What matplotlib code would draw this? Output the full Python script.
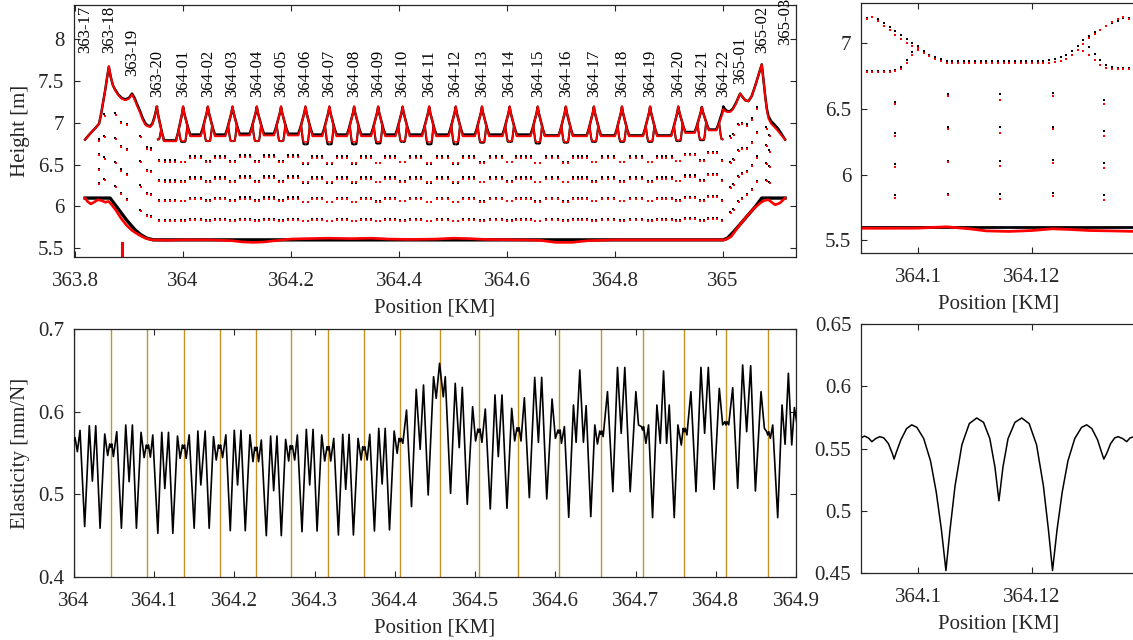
import numpy as np
import matplotlib
matplotlib.use("Agg")
import matplotlib.pyplot as plt

plt.rcParams["font.family"] = ["Liberation Serif", "DejaVu Serif"]
plt.rcParams["font.size"] = 15

# ------------------------------------------------------------------ data
mast_label = ["363-17", "363-18", "363-19", "363-20",
              "364-01", "364-02", "364-03", "364-04", "364-05", "364-06",
              "364-07", "364-08", "364-09", "364-10", "364-11", "364-12",
              "364-13", "364-14", "364-15", "364-16", "364-17", "364-18",
              "364-19", "364-20", "364-21", "364-22",
              "365-01", "365-02", "365-03"]
mast_km = [363.8185, 363.8625, 363.9055, 363.9515,
           364.0000, 364.0458, 364.0915, 364.1365, 364.1814, 364.2266,
           364.2709, 364.3167, 364.3612, 364.4065, 364.4557, 364.5048,
           364.5535, 364.6047, 364.6567, 364.7087, 364.7607, 364.8127,
           364.8648, 364.9170, 364.9606, 365.0006,
           365.0315, 365.0716, 365.1148]
label_base = [7.84, 7.83, 7.56, 7.31,
              7.31, 7.31, 7.31, 7.31, 7.31, 7.31, 7.31, 7.31, 7.31, 7.31, 7.31,
              7.31, 7.31, 7.31, 7.31, 7.31, 7.31, 7.31, 7.31, 7.31, 7.31, 7.31,
              7.46, 7.83, 7.93]

# regular masts 363-20 ... 364-22 (index 3..25)
peak_blk = [7.19, 7.19, 7.19, 7.19, 7.19, 7.19, 7.19, 7.19, 7.19, 7.19, 7.19, 7.19,
            7.19, 7.19, 7.19, 7.19, 7.19, 7.19, 7.19, 7.19, 7.19, 7.19, 7.19]
peak_red = [7.19, 7.20, 7.20, 7.20, 7.20, 7.20, 7.20, 7.20, 7.20, 7.20, 7.20, 7.20,
            7.20, 7.20, 7.20, 7.20, 7.20, 7.20, 7.20, 7.20, 7.20, 7.19, 7.16]
stitch_blk = [6.80, 6.77, 6.78, 6.78, 6.78, 6.78, 6.74, 6.74, 6.74, 6.75, 6.77, 6.74,
              6.74, 6.76, 6.77, 6.75, 6.76, 6.77, 6.77, 6.77, 6.78, 6.79, 6.80]
stitch_red = [6.80, 6.78, 6.78, 6.78, 6.78, 6.78, 6.77, 6.77, 6.77, 6.77, 6.78, 6.77,
              6.77, 6.77, 6.78, 6.77, 6.77, 6.78, 6.78, 6.78, 6.79, 6.80, 6.80]
stitch_side = ["R"] + ["B"] * 21 + ["L"]
# spans between those masts (22)
sag_blk = [6.79, 6.86, 6.86, 6.87, 6.87, 6.87, 6.86, 6.86, 6.86, 6.86, 6.86,
           6.86, 6.86, 6.86, 6.86, 6.85, 6.85, 6.85, 6.85, 6.85, 6.89, 6.92]
sag_red = [6.78, 6.84, 6.84, 6.85, 6.85, 6.85, 6.84, 6.84, 6.84, 6.84, 6.84,
           6.84, 6.84, 6.84, 6.84, 6.84, 6.84, 6.84, 6.84, 6.84, 6.88, 6.91]
span_drops = [5, 5, 5, 5, 5, 5, 5, 5, 5, 5, 5, 5, 5, 5, 6, 5, 6, 5, 5, 6, 5, 5]

# messenger shape next to a support
desc_dx = [0.0, 0.002, 0.004, 0.006, 0.008, 0.010, 0.012, 0.013]
desc_f = [1.0, 0.785, 0.63, 0.485, 0.34, 0.19, 0.08, 0.0]
stitch_l_dx = [-0.0080, -0.0065, -0.0050, -0.0035, 0.0]
stitch_l_f = [1.0, 0.6, 0.25, 0.03, 0.0]
stitch_r_dx = [0.0, 0.0042, 0.0055, 0.0068, 0.0080]
stitch_r_f = [0.0, 0.03, 0.3, 0.65, 1.0]
drop5 = [0.087, 0.292, 0.5, 0.708, 0.913]
drop6 = [0.08, 0.24, 0.42, 0.58, 0.76, 0.92]

# transition ends of the messenger
end_l_km = [363.8185, 363.825, 363.832, 363.838, 363.8444, 363.848, 363.852, 363.856,
            363.859, 363.8625, 363.866, 363.870, 363.874, 363.880, 363.886, 363.893,
            363.900, 363.9055, 363.910, 363.915, 363.9204, 363.925, 363.9296, 363.934,
            363.9389, 363.943, 363.947, 363.9515]
end_l_blk = [6.80, 6.85, 6.90, 6.94, 6.99, 7.10, 7.25, 7.40,
             7.53, 7.67, 7.55, 7.45, 7.40, 7.34, 7.30, 7.28,
             7.30, 7.35, 7.30, 7.22, 7.14, 7.06, 7.00, 6.97,
             6.96, 6.99, 7.07, 7.19]
end_l_red = [6.80, 6.85, 6.90, 6.94, 6.99, 7.10, 7.25, 7.40,
             7.53, 7.68, 7.55, 7.45, 7.39, 7.33, 7.29, 7.27,
             7.29, 7.34, 7.28, 7.20, 7.12, 7.04, 6.98, 6.96,
             6.95, 6.98, 7.06, 7.19]
end_r_km = [365.0006, 365.004, 365.008, 365.013, 365.018, 365.024, 365.0315, 365.036,
            365.041, 365.047, 365.053, 365.0593, 365.065, 365.0716, 365.075, 365.078,
            365.081, 365.084, 365.089, 365.095, 365.102, 365.108, 365.1148]
end_r_blk = [7.19, 7.16, 7.14, 7.14, 7.17, 7.24, 7.35, 7.31,
             7.27, 7.26, 7.32, 7.44, 7.56, 7.70, 7.50, 7.32,
             7.17, 7.08, 7.02, 6.98, 6.93, 6.87, 6.80]
end_r_red = [7.16, 7.14, 7.13, 7.13, 7.16, 7.23, 7.35, 7.31,
             7.27, 7.26, 7.32, 7.44, 7.56, 7.70, 7.50, 7.31,
             7.15, 7.05, 6.99, 6.95, 6.90, 6.85, 6.80]

# contact wire
cw_blk_km = [363.8185, 363.8648, 363.880, 363.895, 363.911, 363.922, 363.933, 363.945,
             365.000, 365.008, 365.020, 365.040, 365.060, 365.0716, 365.1148]
cw_blk = [6.10, 6.10, 5.97, 5.84, 5.72, 5.66, 5.62, 5.60,
          5.60, 5.62, 5.70, 5.85, 6.00, 6.10, 6.10]
cw_red_km = [363.8185, 363.823, 363.829, 363.835, 363.842, 363.849, 363.856, 363.862,
             363.868, 363.876, 363.886, 363.896, 363.906, 363.918, 363.930, 363.942,
             363.970, 364.000, 364.050, 364.090, 364.110, 364.130, 364.150, 364.170,
             364.200, 364.230, 364.270, 364.310, 364.350, 364.380, 364.420, 364.470,
             364.500, 364.530, 364.560, 364.620, 364.660, 364.690, 364.720, 364.750,
             364.800, 364.900, 364.950, 365.0037, 365.015, 365.0284, 365.0438, 365.056,
             365.0685, 365.076, 365.0839, 365.090, 365.0963, 365.105, 365.1148]
cw_red = [6.10, 6.06, 6.03, 6.05, 6.08, 6.07, 6.05, 6.06,
          6.02, 5.95, 5.85, 5.77, 5.71, 5.66, 5.62, 5.60,
          5.595, 5.60, 5.60, 5.59, 5.575, 5.57, 5.575, 5.59,
          5.61, 5.615, 5.62, 5.615, 5.62, 5.61, 5.605, 5.61,
          5.62, 5.615, 5.605, 5.60, 5.595, 5.57, 5.57, 5.59,
          5.60, 5.60, 5.60, 5.60, 5.64, 5.76, 5.88, 5.97,
          6.04, 6.07, 6.08, 6.05, 6.02, 6.04, 6.10]

# droppers in the transition spans
trans_drop_km = [363.8444, 363.8543, 363.8741, 363.8846, 363.8957, 363.9204, 363.9327,
                 363.9407, 365.0130, 365.0191, 365.0284, 365.0346, 365.0438, 365.0530,
                 365.0623, 365.0796, 365.0858]
trans_drop_bot = [6.10, 6.07, 5.96, 5.87, 5.79, 5.66, 5.62, 5.61, 5.63, 5.67, 5.75,
                  5.80, 5.87, 5.93, 6.01, 6.10, 6.10]
trans_drop_top = [6.98, 7.36, 7.40, 7.30, 7.29, 7.14, 6.98, 6.97, 7.14, 7.17, 7.30,
                  7.30, 7.26, 7.34, 7.48, 7.16, 7.05]
red_mark_km = 363.886
red_mark_h = [5.40, 5.56]

# zoomed height panel (364.090 - 364.138)
tr_km = [364.090, 364.091, 364.092, 364.093, 364.094, 364.095, 364.096, 364.097,
         364.098, 364.099, 364.100, 364.101, 364.102, 364.103, 364.104, 364.105,
         364.106, 364.107, 364.108, 364.109, 364.110, 364.111, 364.112, 364.113,
         364.114, 364.115, 364.116, 364.117, 364.118, 364.119, 364.120, 364.121,
         364.122, 364.123, 364.124, 364.125, 364.126, 364.127, 364.128, 364.129,
         364.130, 364.131, 364.132, 364.133, 364.134, 364.135, 364.136, 364.137,
         364.138]
tr_msg_blk = [7.15, 7.19, 7.20, 7.18, 7.15, 7.12, 7.09, 7.06,
              7.03, 7.00, 6.97, 6.94, 6.91, 6.89, 6.875, 6.865,
              6.862, 6.862, 6.862, 6.862, 6.862, 6.862, 6.862, 6.862,
              6.862, 6.862, 6.862, 6.862, 6.863, 6.864, 6.865, 6.866,
              6.867, 6.868, 6.875, 6.89, 6.91, 6.94, 6.98, 7.02,
              7.05, 7.08, 7.10, 7.13, 7.15, 7.17, 7.19, 7.19,
              7.17]
tr_msg_red = [7.14, 7.18, 7.20, 7.17, 7.13, 7.10, 7.06, 7.03,
              7.00, 6.975, 6.95, 6.925, 6.90, 6.88, 6.86, 6.85,
              6.848, 6.847, 6.846, 6.845, 6.845, 6.845, 6.845, 6.845,
              6.845, 6.845, 6.846, 6.847, 6.848, 6.849, 6.85, 6.85,
              6.85, 6.85, 6.855, 6.865, 6.88, 6.91, 6.95, 6.99,
              7.04, 7.07, 7.10, 7.13, 7.16, 7.18, 7.20, 7.18,
              7.16]
tr_st_l_km = [364.090, 364.091, 364.092, 364.093, 364.094, 364.095, 364.096, 364.097,
              364.098, 364.099, 364.100]
tr_st_l_blk = [6.79, 6.785, 6.785, 6.785, 6.79, 6.79, 6.795, 6.82, 6.87, 6.93, 6.98]
tr_st_l_red = [6.78, 6.778, 6.776, 6.778, 6.78, 6.782, 6.786, 6.80, 6.85, 6.91, 6.96]
tr_st_r_km = [364.129, 364.130, 364.131, 364.132, 364.133, 364.134, 364.135, 364.136,
              364.137, 364.138]
tr_st_r_blk = [7.02, 6.97, 6.92, 6.87, 6.83, 6.815, 6.81, 6.81, 6.81, 6.81]
tr_st_r_red = [6.94, 6.91, 6.87, 6.835, 6.81, 6.80, 6.80, 6.80, 6.80, 6.80]
tr_drop_km = [364.0960, 364.1052, 364.1144, 364.1236, 364.1326]
tr_drop_top_blk = [6.79, 6.86, 6.86, 6.87, 6.81]
tr_drop_top_red = [6.78, 6.855, 6.83, 6.86, 6.79]
tr_drop_bot_blk = [5.605, 5.605, 5.605, 5.605, 5.605]
tr_drop_bot_red = [5.592, 5.60, 5.57, 5.588, 5.574]
tr_cw_km = [364.090, 364.095, 364.100, 364.105, 364.109, 364.112, 364.116, 364.120,
            364.1236, 364.127, 364.130, 364.134, 364.1383]
tr_cw_red = [5.592, 5.592, 5.593, 5.603, 5.588, 5.572, 5.568, 5.575,
             5.588, 5.582, 5.575, 5.572, 5.568]
tr_cw_blk = 5.605

# elasticity 364.0 - 364.9 (extremes read span by span)
el_km = [364.0000, 364.0013, 364.0042, 364.0075, 364.0133, 364.0191, 364.0229, 364.0271, 364.0325, 364.0383, 364.0420,
         364.0445, 364.0458, 364.0471,
         364.0491, 364.0533, 364.0591, 364.0645, 364.0687, 364.0728, 364.0778, 364.0836, 364.0874,
         364.0902, 364.0915, 364.0928,
         364.0952, 364.0982, 364.1045, 364.1094, 364.1132, 364.1178, 364.1232, 364.1290, 364.1323,
         364.1352, 364.1365, 364.1378,
         364.1398, 364.1436, 364.1498, 364.1544, 364.1581, 364.1635, 364.1685, 364.1739, 364.1773,
         364.1801, 364.1814, 364.1827,
         364.1852, 364.1893, 364.1948, 364.1998, 364.2039, 364.2081, 364.2135, 364.2193, 364.2231,
         364.2253, 364.2266, 364.2279,
         364.2301, 364.2335, 364.2397, 364.2451, 364.2489, 364.2530, 364.2584, 364.2638, 364.2676,
         364.2696, 364.2709, 364.2722,
         364.2751, 364.2784, 364.2842, 364.2896, 364.2938, 364.2980, 364.3030, 364.3088, 364.3125,
         364.3154, 364.3167, 364.3180,
         364.3200, 364.3238, 364.3296, 364.3350, 364.3387, 364.3429, 364.3483, 364.3541, 364.3579,
         364.3599, 364.3612, 364.3625,
         364.3654, 364.3687, 364.3745, 364.3799, 364.3841, 364.3879, 364.3933, 364.3991, 364.4028,
         364.4052, 364.4065, 364.4078,
         364.4099, 364.4145, 364.4207, 364.4266, 364.4315, 364.4357, 364.4415, 364.4482, 364.4515,
         364.4557,
         364.4603, 364.4628, 364.4694, 364.4752, 364.4802, 364.4840, 364.4902, 364.4969, 364.5006,
         364.5035, 364.5048, 364.5061,
         364.5085, 364.5127, 364.5189, 364.5248, 364.5289, 364.5335, 364.5397, 364.5456, 364.5493,
         364.5522, 364.5535, 364.5548,
         364.5572, 364.5614, 364.5676, 364.5743, 364.5789, 364.5830, 364.5893, 364.5959, 364.6001,
         364.6034, 364.6047, 364.6060,
         364.6076, 364.6113, 364.6167, 364.6226, 364.6259, 364.6305, 364.6350, 364.6384, 364.6442, 364.6492, 364.6525,
         364.6554, 364.6567, 364.6580,
         364.6596, 364.6650, 364.6717, 364.6775, 364.6821, 364.6866, 364.6933, 364.7004, 364.7037,
         364.7074, 364.7087, 364.7100,
         364.7129, 364.7162, 364.7212, 364.7266, 364.7308, 364.7349, 364.7387, 364.7420, 364.7482, 364.7528, 364.7570,
         364.7594, 364.7607, 364.7620,
         364.7640, 364.7690, 364.7753, 364.7815, 364.7861, 364.7907, 364.7978, 364.8044, 364.8086,
         364.8114, 364.8127, 364.8140,
         364.8161, 364.8211, 364.8273, 364.8335, 364.8385, 364.8435, 364.8494, 364.8564, 364.8606,
         364.8635, 364.8648, 364.8661,
         364.8680, 364.8710, 364.8772, 364.8826, 364.8864, 364.8905, 364.8947, 364.8980, 364.9020]
el_val = [0.565, 0.5685, 0.5516, 0.5774, 0.461, 0.583, 0.516, 0.583, 0.459, 0.573, 0.547,
          0.561, 0.557, 0.561,
          0.5456, 0.5758, 0.459, 0.5839, 0.5153, 0.5839, 0.459, 0.575, 0.5444,
          0.5597, 0.5557, 0.5597,
          0.545, 0.5718, 0.4528, 0.575, 0.507, 0.575, 0.4528, 0.5706, 0.5435,
          0.5597, 0.5557, 0.5597,
          0.5435, 0.572, 0.459, 0.5766, 0.5113, 0.5766, 0.459, 0.5698, 0.5415,
          0.5597, 0.5557, 0.5597,
          0.5444, 0.572, 0.456, 0.5774, 0.5113, 0.5774, 0.456, 0.572, 0.5395,
          0.557, 0.553, 0.557,
          0.5395, 0.5657, 0.450, 0.5706, 0.5044, 0.5706, 0.450, 0.5665, 0.5403,
          0.5589, 0.5549, 0.5589,
          0.5415, 0.5718, 0.4548, 0.5786, 0.5113, 0.5786, 0.4556, 0.5718, 0.5403,
          0.5577, 0.5537, 0.5577,
          0.5403, 0.5677, 0.4508, 0.5726, 0.506, 0.5726, 0.4508, 0.5677, 0.5415,
          0.5577, 0.5537, 0.5577,
          0.5415, 0.5726, 0.4556, 0.5798, 0.5125, 0.5798, 0.4569, 0.5766, 0.5496,
          0.5677, 0.5637, 0.5677,
          0.5617, 0.602, 0.4851, 0.627, 0.5544, 0.6323, 0.4992, 0.6423, 0.6161,
          0.6585,
          0.618, 0.6423, 0.5012, 0.6343, 0.5565, 0.6294, 0.4879, 0.606, 0.5645,
          0.579, 0.575, 0.579,
          0.5629, 0.6032, 0.4823, 0.6202, 0.5456, 0.6202, 0.4831, 0.604, 0.5645,
          0.5806, 0.5766, 0.5806,
          0.5645, 0.6169, 0.496, 0.6415, 0.5629, 0.6415, 0.4944, 0.6153, 0.5677,
          0.5778, 0.5738, 0.5778,
          0.5617, 0.5819, 0.4722, 0.6081, 0.5629, 0.6504, 0.5629, 0.6073, 0.473, 0.5839, 0.5609,
          0.5766, 0.5726, 0.5766,
          0.5698, 0.6242, 0.5032, 0.6536, 0.5738, 0.6536, 0.5032, 0.6242, 0.5839,
          0.5819, 0.5779, 0.5819,
          0.5617, 0.5839, 0.4718, 0.6081, 0.5617, 0.6492, 0.5617, 0.6081, 0.4718, 0.5839, 0.5597,
          0.5798, 0.5758, 0.5798,
          0.5718, 0.6242, 0.5032, 0.6536, 0.5738, 0.6536, 0.506, 0.6282, 0.584,
          0.5879, 0.5839, 0.5879,
          0.584, 0.629, 0.5073, 0.6565, 0.5758, 0.6556, 0.504, 0.6242, 0.5798,
          0.5758, 0.5718, 0.5758,
          0.5677, 0.5839, 0.4718, 0.6081, 0.5605, 0.6464, 0.5597, 0.605, 0.58]
el_line_km = mast_km[4:23]

# elasticity, zoomed span
ez_km = [364.0900, 364.0906, 364.0913, 364.0919, 364.0926, 364.0933, 364.0940, 364.0948,
         364.0955, 364.0958, 364.0962, 364.0970, 364.0980, 364.0989, 364.0998, 364.1010,
         364.1022, 364.1032, 364.1041, 364.1049, 364.1056, 364.1065, 364.1077, 364.1090,
         364.1103, 364.1115, 364.1126, 364.1135, 364.1142, 364.1149, 364.1158, 364.1170,
         364.1182, 364.1195, 364.1208, 364.1220, 364.1229, 364.1236, 364.1244, 364.1253,
         364.1263, 364.1275, 364.1287, 364.1296, 364.1305, 364.1315, 364.1322, 364.1326,
         364.1331, 364.1338, 364.1345, 364.1351, 364.1359, 364.1366, 364.1372, 364.1383]
ez_val = [0.5585, 0.5600, 0.5585, 0.5555, 0.5580, 0.5595, 0.5585, 0.5540,
          0.5460, 0.5415, 0.5470, 0.5570, 0.5660, 0.5690, 0.5670, 0.5580,
          0.5400, 0.5150, 0.4850, 0.4520, 0.4840, 0.5200, 0.5530, 0.5700,
          0.5745, 0.5710, 0.5580, 0.5350, 0.5080, 0.5350, 0.5580, 0.5710,
          0.5745, 0.5700, 0.5530, 0.5200, 0.4840, 0.4520, 0.4850, 0.5150,
          0.5400, 0.5580, 0.5670, 0.5690, 0.5660, 0.5570, 0.5470, 0.5415,
          0.5460, 0.5540, 0.5585, 0.5595, 0.5580, 0.5555, 0.5585, 0.5600]

# ------------------------------------------------------------------ figure
W, H = 1133, 640
fig = plt.figure(figsize=(W / 100, H / 100), dpi=100)
INK = "#262626"
RED = "#ff0000"
GOLD = "#c39327"


def ax_at(l, t, r, b):
    return fig.add_axes([l / W, 1 - b / H, (r - l) / W, (b - t) / H])


def style(ax, right=True):
    ax.tick_params(direction="in", top=True, right=right, length=4.5, width=0.8,
                   colors=INK, labelsize=15)
    ax.tick_params(axis="x", pad=11)
    ax.tick_params(axis="y", pad=7)
    for s in ax.spines.values():
        s.set_color(INK)
        s.set_linewidth(0.9)


ax1 = ax_at(74, 5, 796, 257)
ax2 = ax_at(861, 3, 1137, 253)
ax3 = ax_at(74, 329, 796, 577)
ax4 = ax_at(861, 324, 1137, 573)
style(ax1)
style(ax2, right=False)
style(ax3)
style(ax4, right=False)


def messenger(masts, peaks, sags):
    xs, ys = [], []
    for i in range(len(masts) - 1):
        m0, m1, s = masts[i], masts[i + 1], sags[i]
        for dx, f in zip(desc_dx, desc_f):
            xs.append(m0 + dx)
            ys.append(s + f * (peaks[i] - s))
        for dx, f in zip(desc_dx[::-1], desc_f[::-1]):
            xs.append(m1 - dx)
            ys.append(s + f * (peaks[i + 1] - s))
    return xs, ys


def stitches(ax, masts, peaks, sags, bottoms, color, lw):
    for i, m in enumerate(masts):
        side = stitch_side[i]
        if side in ("L", "B"):
            s = sags[i - 1]
            j = s + 0.34 * (peaks[i] - s)
            xs = [m + d for d in stitch_l_dx]
            ys = [bottoms[i] + f * (j - bottoms[i]) for f in stitch_l_f]
            ax.plot(xs, ys, color=color, lw=lw, solid_capstyle="butt")
        if side in ("R", "B"):
            s = sags[i]
            j = s + 0.34 * (peaks[i] - s)
            xs = [m + d for d in stitch_r_dx]
            ys = [bottoms[i] + f * (j - bottoms[i]) for f in stitch_r_f]
            ax.plot(xs, ys, color=color, lw=lw, solid_capstyle="butt")


def droppers(ax, masts, sags, bottoms, color, bot, dy):
    xs, ys = [], []
    for k in range(len(masts) - 1):
        m0, m1 = masts[k], masts[k + 1]
        fr = drop6 if span_drops[k] == 6 else drop5
        for j, f in enumerate(fr):
            if j == 0:
                top = bottoms[k]
            elif j == len(fr) - 1:
                top = bottoms[k + 1]
            else:
                top = sags[k]
            for h in np.linspace(bot, top + dy, 6)[1:5]:
                xs.append(m0 + f * (m1 - m0))
                ys.append(h)
    ax.plot(xs, ys, ls="none", marker="s", ms=1.6, mew=0, color=color)


reg_km = mast_km[3:26]

# ---- top-left: heights
ax = ax1
droppers(ax, reg_km, sag_blk, stitch_blk, "black", 5.60, 0.0)
droppers(ax, reg_km, sag_red, stitch_red, RED, 5.59, -0.015)
for x, b, t in zip(trans_drop_km, trans_drop_bot, trans_drop_top):
    hb = np.linspace(b, t, 6)[1:5]
    hr = np.linspace(b - 0.01, t - 0.02, 6)[1:5]
    ax.plot([x] * 4, hb, ls="none", marker="s", ms=1.6, mew=0, color="black")
    ax.plot([x + 0.0008] * 4, hr, ls="none", marker="s", ms=1.6, mew=0, color=RED)

mx, my = messenger(reg_km, peak_blk, sag_blk)
ax.plot(end_l_km, end_l_blk, color="black", lw=1.8)
ax.plot(mx, my, color="black", lw=1.8)
ax.plot(end_r_km, end_r_blk, color="black", lw=1.8)
stitches(ax, reg_km, peak_blk, sag_blk, stitch_blk, "black", 1.5)
ax.plot(cw_blk_km, cw_blk, color="black", lw=2.4)

mx, my = messenger(reg_km, peak_red, sag_red)
ax.plot(end_l_km, end_l_red, color=RED, lw=1.4)
ax.plot(mx, my, color=RED, lw=1.4)
ax.plot(end_r_km, end_r_red, color=RED, lw=1.4)
stitches(ax, reg_km, peak_red, sag_red, stitch_red, RED, 1.2)
ax.plot(cw_red_km, cw_red, color=RED, lw=1.9)
ax.plot([red_mark_km, red_mark_km], red_mark_h, color=RED, lw=2.2)

for x, lab, yb in zip(mast_km, mast_label, label_base):
    ax.text(x, yb, lab, rotation=90, ha="center", va="bottom", fontsize=12,
            color="black")

ax.set_xlim(363.798, 365.135)
ax.set_ylim(5.395, 8.41)
ax.set_xticks([363.8, 364.0, 364.2, 364.4, 364.6, 364.8, 365.0])
ax.set_xticklabels(["363.8", "364", "364.2", "364.4", "364.6", "364.8", "365"])
ax.set_yticks([5.5, 6.0, 6.5, 7.0, 7.5, 8.0])
ax.set_yticklabels(["5.5", "6", "6.5", "7", "7.5", "8"])
ax.set_xlabel("Position [KM]", color=INK, labelpad=5)
ax.set_ylabel("Height [m]", color=INK, labelpad=6)

# ---- top-right: zoomed heights
ax = ax2
ax.plot([364.09, 364.1383], [tr_cw_blk, tr_cw_blk], color="black", lw=2.0)
ax.plot(tr_cw_km, tr_cw_red, color=RED, lw=2.0)
for x, tb, tr, bb, br in zip(tr_drop_km, tr_drop_top_blk, tr_drop_top_red,
                             tr_drop_bot_blk, tr_drop_bot_red):
    ax.plot([x] * 4, np.linspace(bb, tb, 6)[1:5], ls="none", marker="s", ms=2.1,
            mew=0, color="black")
    ax.plot([x] * 4, np.linspace(br, tr, 6)[1:5] - 0.008, ls="none", marker="s",
            ms=2.1, mew=0, color=RED)
mk = dict(ls="none", marker="s", ms=2.1, mew=0)
ax.plot(tr_km, tr_msg_blk, color="black", **mk)
ax.plot(tr_st_l_km, tr_st_l_blk, color="black", **mk)
ax.plot(tr_st_r_km, tr_st_r_blk, color="black", **mk)
ax.plot(tr_km, tr_msg_red, color=RED, **mk)
ax.plot(tr_st_l_km, tr_st_l_red, color=RED, **mk)
ax.plot(tr_st_r_km, tr_st_r_red, color=RED, **mk)
ax.set_xlim(364.09, 364.13842)
ax.set_ylim(5.404, 7.304)
ax.set_xticks([364.1, 364.12])
ax.set_xticklabels(["364.1", "364.12"])
ax.set_yticks([5.5, 6.0, 6.5, 7.0])
ax.set_yticklabels(["5.5", "6", "6.5", "7"])
ax.set_xlabel("Position [KM]", color=INK, labelpad=5)

# ---- bottom-left: elasticity
ax = ax3
for x in el_line_km:
    ax.axvline(x, color=GOLD, lw=1.0, zorder=1)
ax.plot(el_km, el_val, color="black", lw=1.2, zorder=3, solid_joinstyle="round")
ax.set_xlim(364.0, 364.9)
ax.set_ylim(0.4, 0.7)
ax.set_xticks([364.0, 364.1, 364.2, 364.3, 364.4, 364.5, 364.6, 364.7, 364.8, 364.9])
ax.set_xticklabels(["364", "364.1", "364.2", "364.3", "364.4", "364.5", "364.6",
                    "364.7", "364.8", "364.9"])
ax.set_yticks([0.4, 0.5, 0.6, 0.7])
ax.set_yticklabels(["0.4", "0.5", "0.6", "0.7"])
ax.set_xlabel("Position [KM]", color=INK, labelpad=5)
ax.set_ylabel("Elasticity [mm/N]", color=INK, labelpad=6)

# ---- bottom-right: zoomed elasticity
ax = ax4
ax.plot(ez_km, ez_val, color="black", lw=1.1)
ax.set_xlim(364.09, 364.13842)
ax.set_ylim(0.45, 0.65)
ax.set_xticks([364.1, 364.12])
ax.set_xticklabels(["364.1", "364.12"])
ax.set_yticks([0.45, 0.5, 0.55, 0.6, 0.65])
ax.set_yticklabels(["0.45", "0.5", "0.55", "0.6", "0.65"])
ax.set_xlabel("Position [KM]", color=INK, labelpad=5)

fig.savefig("out.png", dpi=100)
